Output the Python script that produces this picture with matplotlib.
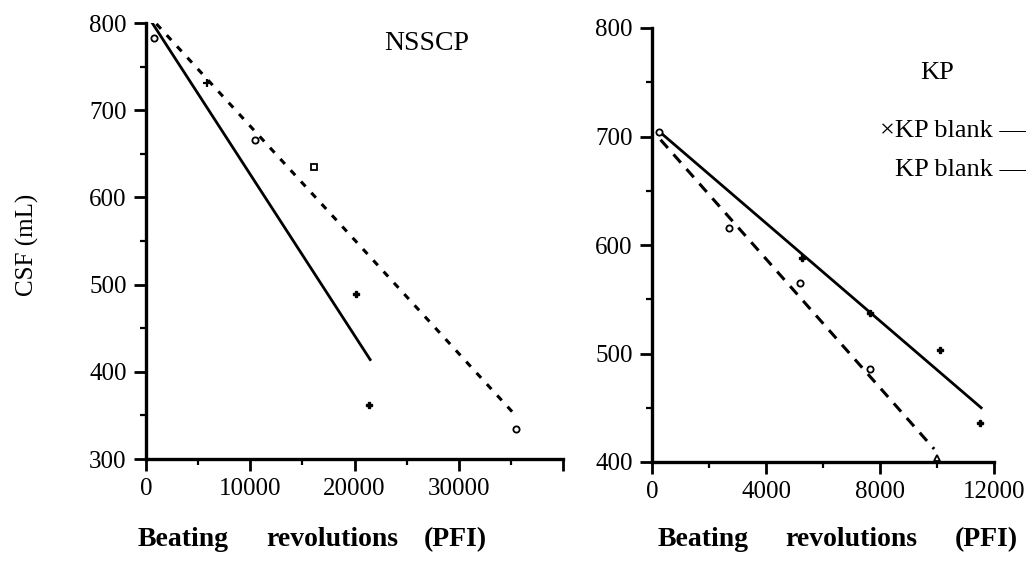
import matplotlib
matplotlib.use("Agg")
import matplotlib.pyplot as plt
from matplotlib.ticker import MultipleLocator, FixedLocator, FixedFormatter

plt.rcParams['font.family'] = ['Liberation Serif', 'DejaVu Serif']

# NSSCP panel (left)
nsscp_circle_x = [770, 10460, 35490]
nsscp_circle_y = [783, 666, 334]
nsscp_plus_x = [5850]
nsscp_plus_y = [731]
nsscp_square_x = [16100]
nsscp_square_y = [635]
nsscp_dot_x = [20140, 21390]
nsscp_dot_y = [489, 362]
nsscp_solid_x = [600, 21500]
nsscp_solid_y = [800, 414]
nsscp_dash_x = [1000, 35600]
nsscp_dash_y = [799, 348]
nsscp_xticks = [0, 10000, 20000, 30000, 40000]
nsscp_xlabels = ['0', '10000', '20000', '30000', '']

# KP panel (right)
kp_circle_x = [250, 2700, 5200, 7650]
kp_circle_y = [704, 616, 565, 486]
kp_tri_x = [10000]
kp_tri_y = [404]
kp_plus_x = [5250, 7650, 10100, 11500]
kp_plus_y = [588, 537, 503, 436]
kp_solid_x = [280, 11550]
kp_solid_y = [704, 450]
kp_dash_x = [300, 9900]
kp_dash_y = [697, 412]
kp_xticks = [0, 4000, 8000, 12000]
kp_xlabels = ['0', '4000', '8000', '12000']

W, H = 1026, 561
fig = plt.figure(figsize=(W / 100, H / 100), dpi=100)

ax1 = fig.add_axes([146 / W, 1 - 459 / H, (563 - 146) / W, (459 - 23) / H])
ax2 = fig.add_axes([652 / W, 1 - 462 / H, (994 - 652) / W, (462 - 28) / H])

for ax in (ax1, ax2):
    for s in ('top', 'right'):
        ax.spines[s].set_visible(False)
    for s in ('left', 'bottom'):
        ax.spines[s].set_linewidth(2.4)
    ax.tick_params(which='major', direction='out', length=9, width=2.0,
                   labelsize=18, pad=5)
    ax.tick_params(which='minor', direction='out', length=4, width=1.6)
    ax.tick_params(axis='x', which='major', length=8.5)

# left panel
ax1.plot(nsscp_solid_x, nsscp_solid_y, color='black', lw=2.0)
ax1.plot(nsscp_dash_x, nsscp_dash_y, color='black', lw=2.2,
         linestyle=(0, (2.2, 2.8)))
ax1.plot(nsscp_circle_x, nsscp_circle_y, 'o', mfc='white', mec='black',
         ms=4.5, mew=1.3)
ax1.plot(nsscp_plus_x, nsscp_plus_y, '+', color='black', ms=6, mew=1.6)
ax1.plot(nsscp_square_x, nsscp_square_y, 's', mfc='white', mec='black',
         ms=4, mew=1.3)
ax1.plot(nsscp_dot_x, nsscp_dot_y, 'P', color='black', ms=4.5)
ax1.set_xlim(0, 40000)
ax1.set_ylim(300, 800)
ax1.xaxis.set_major_locator(FixedLocator(nsscp_xticks))
ax1.xaxis.set_major_formatter(FixedFormatter(nsscp_xlabels))
ax1.xaxis.set_minor_locator(MultipleLocator(5000))
ax1.yaxis.set_major_locator(MultipleLocator(100))
ax1.yaxis.set_minor_locator(MultipleLocator(50))
ax1.text(427 / W, 1 - 43 / H, 'NSSCP', transform=fig.transFigure,
         ha='center', va='center', fontsize=20)

# right panel
ax2.plot(kp_solid_x, kp_solid_y, color='black', lw=2.0)
ax2.plot(kp_dash_x, kp_dash_y, color='black', lw=2.2,
         linestyle=(0, (3.6, 2.8)))
ax2.plot(kp_circle_x, kp_circle_y, 'o', mfc='white', mec='black',
         ms=4.5, mew=1.3)
ax2.plot(kp_tri_x, kp_tri_y, '^', mfc='white', mec='black', ms=5, mew=1.3)
ax2.plot(kp_plus_x, kp_plus_y, 'P', color='black', ms=4.5)
ax2.set_xlim(0, 12000)
ax2.set_ylim(400, 800)
ax2.xaxis.set_major_locator(FixedLocator(kp_xticks))
ax2.xaxis.set_major_formatter(FixedFormatter(kp_xlabels))
ax2.xaxis.set_minor_locator(MultipleLocator(2000))
ax2.yaxis.set_major_locator(MultipleLocator(100))
ax2.yaxis.set_minor_locator(MultipleLocator(50))

fig.text(937 / W, 1 - 73 / H, 'KP', ha='center', va='center', fontsize=19)
fig.text(1026 / W, 1 - 131 / H, '\u00d7KP blank \u2014', ha='right',
         va='center', fontsize=19)
fig.text(1026 / W, 1 - 170 / H, 'KP blank \u2014', ha='right',
         va='center', fontsize=19)

# axis labels
fig.text(27 / W, 1 - 245 / H, 'CSF (mL)', rotation=90, ha='center',
         va='center', fontsize=18)
for cx, word in zip([183, 332, 455], ['Beating', 'revolutions', '(PFI)']):
    fig.text(cx / W, 1 - 540 / H, word, ha='center', va='center',
             fontsize=20, fontweight='bold')
for cx, word in zip([703, 851, 986], ['Beating', 'revolutions', '(PFI)']):
    fig.text(cx / W, 1 - 540 / H, word, ha='center', va='center',
             fontsize=20, fontweight='bold')

fig.savefig('out.png', dpi=100, facecolor='white')
